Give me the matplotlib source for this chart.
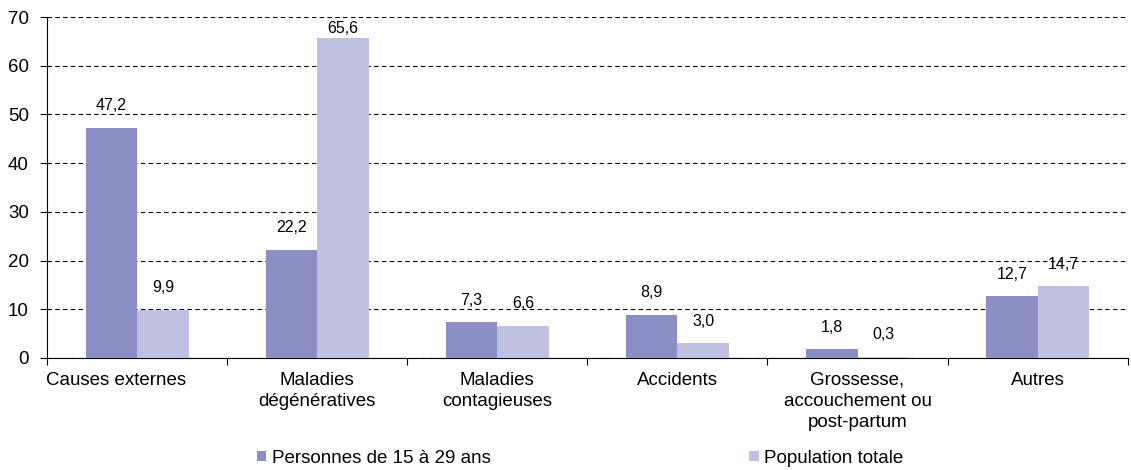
""" Décès par cause : 15-29 ans vs population totale """

import matplotlib
matplotlib.use("Agg")
import matplotlib.pyplot as plt
import matplotlib.transforms as mtransforms
import numpy as np

categories = [
    "Causes externes",
    "Maladies\ndégénératives",
    "Maladies\ncontagieuses",
    "Accidents",
    "Grossesse,\naccouchement ou\npost-partum",
    "Autres",
]
jeunes = [47.2, 22.2, 7.3, 8.9, 1.8, 12.7]
totale = [9.9, 65.6, 6.6, 3.0, 0.3, 14.7]
series_labels = ["Personnes de 15 à 29 ans", "Population totale"]
colors = ["#8b8ec4", "#c0c0e0"]


def fmt(v):
    return f"{v:.1f}".replace(".", ",")


def main():
    plt.rcParams["font.family"] = ["Liberation Sans", "DejaVu Sans"]
    plt.rcParams["font.size"] = 13.5

    fig = plt.figure(figsize=(11.31, 4.70), dpi=100)
    ax = fig.add_axes([0.0416, 0.2383, 0.9555, 0.7255])

    x = np.arange(len(categories))
    w = 0.286
    b1 = ax.bar(x - w / 2, jeunes, w, color=colors[0], label=series_labels[0], zorder=3)
    b2 = ax.bar(x + w / 2, totale, w, color=colors[1], label=series_labels[1], zorder=3)

    for bars, vals in ((b1, jeunes), (b2, totale)):
        for rect, v in zip(bars, vals):
            y = min(v + 3.0, 66.2)
            ax.text(rect.get_x() + rect.get_width() / 2, y, fmt(v),
                    ha="center", va="bottom", fontsize=11.5)

    ax.set_xlim(-0.5, len(categories) - 0.5)
    ax.set_ylim(0, 70)
    ax.set_yticks(range(0, 71, 10))
    ax.yaxis.grid(True, linestyle=(0, (4, 3)), color="black", linewidth=0.8, zorder=0)

    ax.set_xticks(np.arange(len(categories) + 1) - 0.5)
    ax.set_xticklabels([])
    ax.set_xticks(x, minor=True)
    ax.set_xticklabels(categories, minor=True, linespacing=1.3)
    ax.tick_params(axis="x", which="minor", length=0, pad=10)
    ax.tick_params(axis="x", which="major", length=5, direction="out")
    ax.tick_params(axis="y", length=5, direction="out", pad=8)

    # the first label sits a bit left of its group in the original
    first = ax.get_xticklabels(minor=True)[0]
    shift = mtransforms.ScaledTranslation(-0.21, 0, fig.dpi_scale_trans)
    first.set_transform(first.get_transform() + shift)

    for s in ("top", "right"):
        ax.spines[s].set_visible(False)
    ax.spines["left"].set_color("black")
    ax.spines["bottom"].set_color("black")

    fig.legend(loc="center", bbox_to_anchor=(0.513, 0.025), ncol=2, frameon=False,
               handlelength=0.5, handleheight=0.5, handletextpad=0.3,
               columnspacing=13.8, fontsize=13.5)

    fig.savefig("out.png", dpi=100)


if __name__ == "__main__":
    main()
